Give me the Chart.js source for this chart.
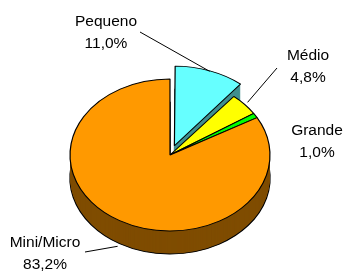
<!DOCTYPE html>
<html>
<head>
<meta charset="utf-8">
<script src="https://cdn.jsdelivr.net/npm/chart.js@4"></script>
<style>
  html, body { margin: 0; padding: 0; background: #fff; }
  #wrap { width: 345px; height: 273px; position: relative; }
</style>
</head>
<body>
<div id="wrap"><canvas id="pie"></canvas></div>
<script>
const categories = ['Pequeno', 'Médio', 'Grande', 'Mini/Micro'];
const shares     = [11.0, 4.8, 1.0, 83.2];
const explode    = [52, 0, 0, 0];   // arc.draw uses offset/4 -> ~13px

const TOP_COLORS  = ['#66FFFF', '#FFFF00', '#00FF00', '#FF9900'];
const SIDE_COLORS = ['#3F8F8F', '#9A9A00', '#008000', '#7F4C00'];

const TILT  = 0.76;   // vertical squash of the pie face
const DEPTH = 23;     // thickness of the pie, px

// label anchor: centre x, first baseline y, leader line start (or null)
const LABEL_POS = [
  { x: 106, y: 26,  line: [140, 32] },
  { x: 308, y: 60,  line: [277, 68] },
  { x: 317, y: 135, line: null },
  { x: 45,  y: 247, line: [85, 252] },
];

const fmt = v => v.toFixed(1).replace('.', ',') + '%';

function squash(ctx, cx, cy, dy) {
  ctx.translate(cx, cy + dy);
  ctx.scale(1, TILT);
  ctx.translate(-cx, -cy);
}

// fake 3D: stack darker copies of each arc below the face, then squash the face
const pie3d = {
  id: 'pie3d',
  beforeDatasetsDraw(chart) {
    const ctx  = chart.ctx;
    const arcs = chart.getDatasetMeta(0).data;
    const cx = arcs[0].x, cy = arcs[0].y;
    for (let k = DEPTH; k >= 1; k--) {
      ctx.save();
      squash(ctx, cx, cy, k);
      arcs.forEach((arc, i) => {
        const ghost = Object.create(arc);
        ghost.options = Object.assign({}, arc.options, {
          backgroundColor: SIDE_COLORS[i],
          borderColor: '#000',
          borderWidth: k === DEPTH ? 1.4 : 0,
        });
        ghost.draw(ctx);
      });
      ctx.restore();
    }
    ctx.save();
    squash(ctx, cx, cy, 0);
  },
  afterDatasetsDraw(chart) {
    chart.ctx.restore();
  },
};

const pieLabels = {
  id: 'pieLabels',
  afterDraw(chart) {
    const ctx  = chart.ctx;
    const arcs = chart.getDatasetMeta(0).data;
    ctx.save();
    ctx.font = '15.5px "Liberation Sans", Arial, sans-serif';
    ctx.fillStyle = '#000';
    ctx.strokeStyle = '#000';
    ctx.lineWidth = 1;
    ctx.textAlign = 'center';
    arcs.forEach((arc, i) => {
      const p = LABEL_POS[i];
      ctx.fillText(categories[i], p.x, p.y);
      ctx.fillText(fmt(shares[i]), p.x, p.y + 22);
      if (!p.line) return;
      const mid = (arc.startAngle + arc.endAngle) / 2;
      const r   = arc.outerRadius * 1.04 + (arc.options.offset || 0) / 4;
      const ex  = arc.x + Math.cos(mid) * r;
      let ey    = arc.y + Math.sin(mid) * r * TILT;
      if (Math.sin(mid) > 0) ey += DEPTH;
      ctx.beginPath();
      ctx.moveTo(p.line[0], p.line[1]);
      ctx.lineTo(ex, ey);
      ctx.stroke();
    });
    ctx.restore();
  },
};

new Chart(document.getElementById('pie'), {
  type: 'pie',
  data: {
    labels: categories,
    datasets: [{
      data: shares,
      backgroundColor: TOP_COLORS,
      borderColor: '#000',
      borderWidth: 1.2,
      offset: explode,
    }],
  },
  options: {
    responsive: true,
    maintainAspectRatio: false,
    animation: false,
    events: [],
    radius: 100,
    rotation: 0,
    layout: { padding: { left: 70, right: 75, top: 55, bottom: 18 } },
    plugins: {
      legend: { display: false },
      tooltip: { enabled: false },
    },
  },
  plugins: [pie3d, pieLabels],
});
</script>
</body>
</html>
